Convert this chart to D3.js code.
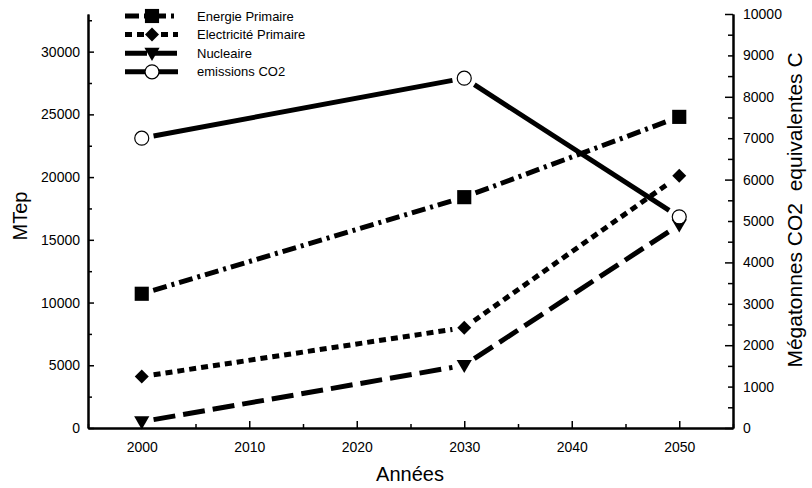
<!DOCTYPE html>
<html>
<head>
<meta charset="utf-8">
<script src="https://cdn.jsdelivr.net/npm/d3@7"></script>
<style>
  body { margin: 0; background: #fff; }
  text { font-family: "Liberation Sans", Arial, sans-serif; fill: #000; }
</style>
</head>
<body>
<svg id="chart" width="812" height="488"></svg>
<script>
// valeurs
var years = [2000, 2030, 2050]
var energiePrimaire = [10700, 18400, 24800]      // MTep
var electricitePrimaire = [4100, 8000, 20100]    // MTep
var nucleaire = [500, 5000, 16200]               // MTep
var emissionsCO2 = [7000, 8450, 5100]            // Mt C (axe droit)

var xTicks = [2000, 2010, 2020, 2030, 2040, 2050]
var xMinorTicks = [1995, 2005, 2015, 2025, 2035, 2045, 2055]
var leftTicks = [0, 5000, 10000, 15000, 20000, 25000, 30000]
var leftMinorTicks = [2500, 7500, 12500, 17500, 22500, 27500, 32500]
var rightTicks = [0, 1000, 2000, 3000, 4000, 5000, 6000, 7000, 8000, 9000, 10000]
var rightMinorTicks = [500, 1500, 2500, 3500, 4500, 5500, 6500, 7500, 8500, 9500]

var svg = d3.select("#chart")

var xScale = d3.scaleLinear().domain([1995, 2055]).range([88, 733])
var yLeft = d3.scaleLinear().domain([0, 33000]).range([428, 14])
var yRight = d3.scaleLinear().domain([0, 10000]).range([428, 14])

var series = [
  { name: "Energie Primaire", values: energiePrimaire, scale: yLeft, dash: "14,5,3,5", symbol: "square" },
  { name: "Electricité Primaire", values: electricitePrimaire, scale: yLeft, dash: "7,5", symbol: "diamond" },
  { name: "Nucleaire", values: nucleaire, scale: yLeft, dash: "22,8", symbol: "triangle" },
  { name: "emissions CO2", values: emissionsCO2, scale: yRight, dash: null, symbol: "circle" }
]

///AXES
var axes = svg.append("g")
var fmt = d3.format("d")

// left
axes.append("g")
  .attr("transform", "translate(88,0)")
  .call(d3.axisLeft(yLeft).tickValues(leftMinorTicks).tickSize(-4).tickSizeOuter(0).tickFormat(""))
axes.append("g")
  .attr("transform", "translate(88,0)")
  .call(d3.axisLeft(yLeft).tickValues(leftTicks).tickSize(-6).tickSizeOuter(0).tickPadding(8).tickFormat(fmt))

// right
axes.append("g")
  .attr("transform", "translate(733,0)")
  .call(d3.axisRight(yRight).tickValues(rightMinorTicks).tickSize(-5).tickSizeOuter(0).tickFormat(""))
axes.append("g")
  .attr("transform", "translate(733,0)")
  .call(d3.axisRight(yRight).tickValues(rightTicks).tickSize(-5).tickSizeOuter(0).tickPadding(10).tickFormat(fmt))
  .selectAll(".tick line")
  .attr("x2", function (d) { return d % 2000 == 0 ? -8 : -5 })

// bottom
axes.append("g")
  .attr("transform", "translate(0,428)")
  .call(d3.axisBottom(xScale).tickValues(xMinorTicks).tickSize(-4).tickSizeOuter(0).tickFormat(""))
axes.append("g")
  .attr("transform", "translate(0,428)")
  .call(d3.axisBottom(xScale).tickValues(xTicks).tickSize(-7).tickSizeOuter(0).tickPadding(14).tickFormat(fmt))

axes.selectAll("g").attr("font-size", 14).attr("font-family", "'Liberation Sans', Arial, sans-serif")
axes.selectAll(".domain").attr("stroke", "#000").attr("stroke-width", 2)
axes.selectAll(".tick line").attr("stroke", "#000").attr("stroke-width", 1.5)
axes.selectAll("text").attr("fill", "#000")

///TITRES
svg.append("text")
  .attr("x", 410)
  .attr("y", 481)
  .attr("text-anchor", "middle")
  .style("font-size", "20px")
  .text("Années")

svg.append("text")
  .attr("text-anchor", "middle")
  .attr("transform", "translate(27,216)rotate(-90)")
  .style("font-size", "20px")
  .text("MTep")

svg.append("text")
  .attr("text-anchor", "middle")
  .attr("transform", "translate(802,210)rotate(-90)")
  .style("font-size", "21px")
  .style("white-space", "pre")
  .attr("xml:space", "preserve")
  .text("Mégatonnes CO2  equivalentes C")

///COURBES
function drawMarker(g, type, x, y) {
  if (type == "circle") {
    g.append("circle").attr("cx", x).attr("cy", y).attr("r", 7)
      .attr("fill", "#fff").attr("stroke", "#000").attr("stroke-width", 1.2)
  } else if (type == "square") {
    g.append("path").attr("d", d3.symbol(d3.symbolSquare, 200)())
      .attr("transform", "translate(" + x + "," + y + ")").attr("fill", "#000")
  } else if (type == "diamond") {
    g.append("path").attr("d", d3.symbol(d3.symbolSquare, 98)())
      .attr("transform", "translate(" + x + "," + y + ")rotate(45)").attr("fill", "#000")
  } else {
    g.append("path").attr("d", d3.symbol(d3.symbolTriangle, 100)())
      .attr("transform", "translate(" + x + "," + (y - 1) + ")rotate(180)").attr("fill", "#000")
  }
}

var line = d3.line()
var gap = 12
var plot = svg.append("g")

for (let s = 0; s < series.length; s++) {
  var ser = series[s]
  for (let i = 0; i < years.length - 1; i++) {
    var x0 = xScale(years[i]), y0 = ser.scale(ser.values[i])
    var x1 = xScale(years[i + 1]), y1 = ser.scale(ser.values[i + 1])
    var len = Math.sqrt((x1 - x0) * (x1 - x0) + (y1 - y0) * (y1 - y0))
    var ux = (x1 - x0) / len, uy = (y1 - y0) / len
    plot.append("path")
      .attr("d", line([[x0 + ux * gap, y0 + uy * gap], [x1 - ux * gap, y1 - uy * gap]]))
      .attr("fill", "none")
      .attr("stroke", "#000")
      .attr("stroke-width", 5)
      .attr("stroke-dasharray", ser.dash)
  }
}
for (let s = 0; s < series.length; s++) {
  for (let i = 0; i < years.length; i++) {
    drawMarker(plot, series[s].symbol, xScale(years[i]), series[s].scale(series[s].values[i]))
  }
}

///LEGENDE
var legend = svg.append("g")
for (let s = 0; s < series.length; s++) {
  var ly = 16 + s * 18.6
  legend.append("line")
    .attr("x1", 125).attr("x2", 178).attr("y1", ly).attr("y2", ly)
    .attr("stroke", "#000").attr("stroke-width", 5)
    .attr("stroke-dasharray", series[s].dash)
  drawMarker(legend, series[s].symbol, 152, ly)
  legend.append("text")
    .attr("x", 197).attr("y", ly + 4.5)
    .style("font-size", "13px")
    .text(series[s].name)
}
</script>
</body>
</html>
